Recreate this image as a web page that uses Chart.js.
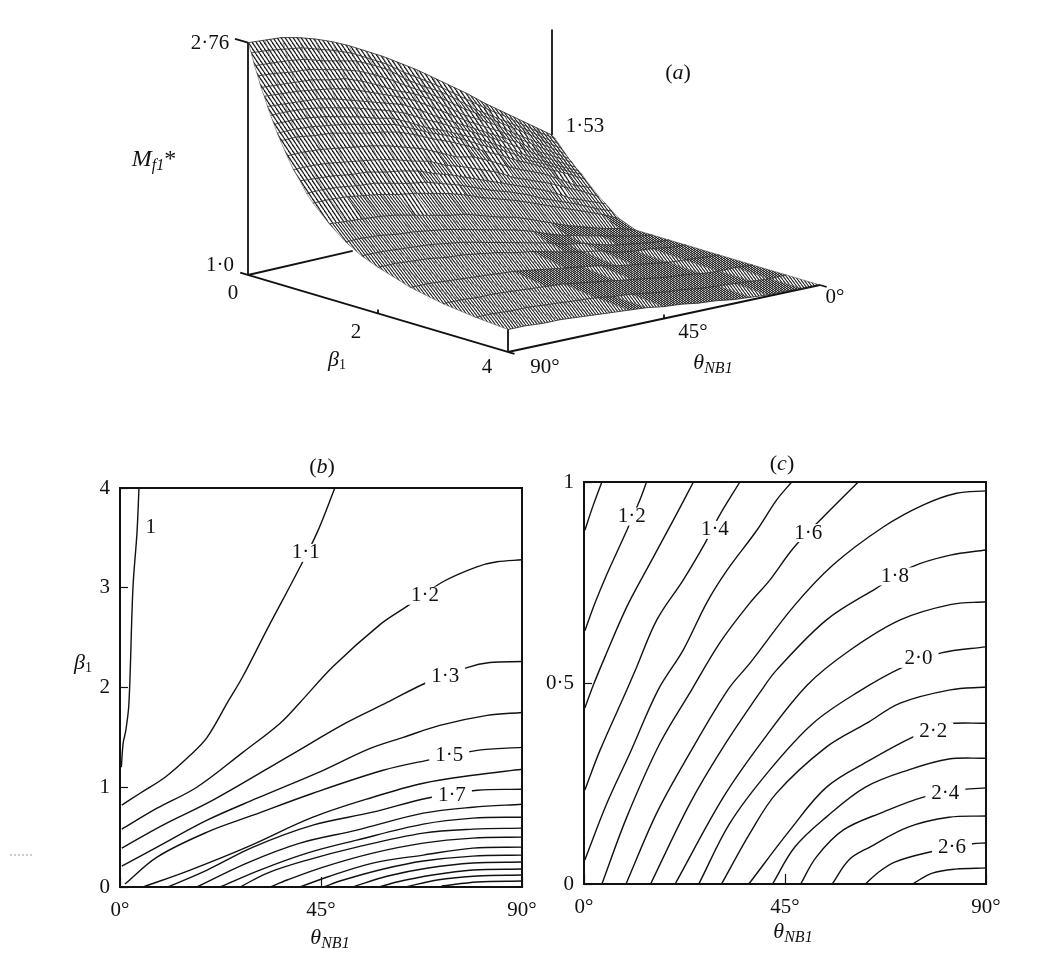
<!DOCTYPE html>
<html>
<head>
<meta charset="utf-8">
<script src="https://cdn.jsdelivr.net/npm/chart.js@4"></script>
<style>
    body { margin: 0; background: #fff; }
    #page { position: relative; width: 1044px; height: 959px; overflow: hidden; }
    canvas { position: absolute; filter: blur(0.4px); }
</style>
</head>
<body>
<div id="page">
    <canvas id="surfaceChart" width="1044" height="430" style="left:0px;top:0px"></canvas>
    <canvas id="chartB" width="560" height="519" style="left:0px;top:440px"></canvas>
    <canvas id="chartC" width="514" height="519" style="left:530px;top:440px"></canvas>
</div>
<script>
// surface (a): M, one row per beta, columns per theta
const surfaceTheta = [0, 5, 10, 15, 20, 25, 30, 35, 40, 45, 50, 55, 60, 65, 70, 75, 80, 85, 90];
const surfaceBeta = [0, .05, .1, .15, .2, .25, .3, .35, .4, .45, .5, .6, .7, .8, .9, 1, 1.25, 1.5, 1.75, 2, 2.5, 3, 3.5, 4];
const surfaceM = [
    [1.53, 1.62, 1.71, 1.80, 1.89, 1.99, 2.08, 2.17, 2.26, 2.34, 2.42, 2.49, 2.56, 2.62, 2.67, 2.71, 2.74, 2.75, 2.76],
    [1.51, 1.59, 1.68, 1.77, 1.85, 1.94, 2.03, 2.12, 2.20, 2.28, 2.37, 2.44, 2.51, 2.56, 2.60, 2.64, 2.66, 2.68, 2.69],
    [1.48, 1.56, 1.65, 1.73, 1.81, 1.89, 1.99, 2.08, 2.15, 2.23, 2.33, 2.40, 2.46, 2.49, 2.52, 2.56, 2.58, 2.59, 2.60],
    [1.45, 1.53, 1.62, 1.70, 1.78, 1.86, 1.94, 2.03, 2.11, 2.18, 2.26, 2.33, 2.39, 2.43, 2.46, 2.49, 2.50, 2.52, 2.53],
    [1.42, 1.50, 1.58, 1.66, 1.75, 1.82, 1.89, 1.98, 2.07, 2.14, 2.19, 2.26, 2.32, 2.37, 2.39, 2.42, 2.43, 2.44, 2.45],
    [1.39, 1.47, 1.55, 1.63, 1.71, 1.78, 1.85, 1.93, 2.01, 2.09, 2.15, 2.20, 2.25, 2.30, 2.33, 2.35, 2.37, 2.38, 2.39],
    [1.37, 1.44, 1.51, 1.60, 1.67, 1.74, 1.81, 1.88, 1.95, 2.03, 2.10, 2.14, 2.18, 2.22, 2.26, 2.29, 2.30, 2.31, 2.32],
    [1.34, 1.41, 1.48, 1.56, 1.64, 1.71, 1.78, 1.84, 1.91, 1.97, 2.04, 2.09, 2.13, 2.17, 2.20, 2.23, 2.25, 2.26, 2.26],
    [1.32, 1.38, 1.45, 1.52, 1.60, 1.67, 1.74, 1.80, 1.86, 1.91, 1.98, 2.04, 2.07, 2.11, 2.14, 2.17, 2.19, 2.20, 2.20],
    [1.30, 1.36, 1.43, 1.49, 1.57, 1.64, 1.70, 1.77, 1.83, 1.88, 1.94, 2.00, 2.03, 2.06, 2.09, 2.11, 2.13, 2.14, 2.14],
    [1.27, 1.34, 1.40, 1.47, 1.53, 1.60, 1.66, 1.73, 1.79, 1.84, 1.90, 1.95, 1.98, 2.00, 2.03, 2.06, 2.07, 2.09, 2.09],
    [1.22, 1.27, 1.35, 1.42, 1.47, 1.53, 1.60, 1.66, 1.69, 1.75, 1.81, 1.85, 1.89, 1.92, 1.94, 1.96, 1.98, 1.99, 1.99],
    [1.17, 1.24, 1.30, 1.36, 1.41, 1.46, 1.53, 1.58, 1.63, 1.67, 1.73, 1.76, 1.80, 1.83, 1.85, 1.87, 1.89, 1.90, 1.90],
    [1.13, 1.18, 1.23, 1.30, 1.36, 1.41, 1.46, 1.51, 1.56, 1.61, 1.65, 1.70, 1.73, 1.75, 1.78, 1.79, 1.81, 1.82, 1.83],
    [1.09, 1.14, 1.20, 1.25, 1.30, 1.36, 1.41, 1.45, 1.50, 1.55, 1.59, 1.63, 1.65, 1.68, 1.71, 1.72, 1.74, 1.75, 1.75],
    [1.05, 1.11, 1.16, 1.21, 1.26, 1.31, 1.36, 1.40, 1.44, 1.49, 1.53, 1.56, 1.59, 1.61, 1.64, 1.66, 1.68, 1.69, 1.69],
    [1.00, 1.04, 1.07, 1.11, 1.15, 1.20, 1.25, 1.30, 1.33, 1.37, 1.41, 1.43, 1.46, 1.49, 1.52, 1.54, 1.55, 1.56, 1.57],
    [1.00, 1.02, 1.05, 1.08, 1.11, 1.14, 1.18, 1.23, 1.27, 1.30, 1.33, 1.36, 1.39, 1.41, 1.43, 1.44, 1.46, 1.47, 1.47],
    [1.00, 1.01, 1.03, 1.05, 1.08, 1.12, 1.14, 1.18, 1.21, 1.24, 1.27, 1.30, 1.33, 1.35, 1.37, 1.38, 1.39, 1.40, 1.40],
    [1.00, 1.01, 1.03, 1.04, 1.06, 1.10, 1.12, 1.15, 1.18, 1.21, 1.23, 1.26, 1.28, 1.30, 1.31, 1.33, 1.34, 1.35, 1.35],
    [1.00, 1.01, 1.02, 1.03, 1.05, 1.07, 1.09, 1.12, 1.14, 1.16, 1.18, 1.20, 1.22, 1.23, 1.24, 1.25, 1.26, 1.27, 1.27],
    [1.00, 1.01, 1.01, 1.02, 1.04, 1.05, 1.07, 1.09, 1.11, 1.13, 1.15, 1.17, 1.18, 1.19, 1.20, 1.21, 1.21, 1.22, 1.22],
    [1.00, 1.00, 1.01, 1.02, 1.03, 1.04, 1.06, 1.07, 1.09, 1.11, 1.12, 1.14, 1.15, 1.16, 1.17, 1.18, 1.18, 1.19, 1.19],
    [1.00, 1.00, 1.01, 1.01, 1.02, 1.03, 1.05, 1.06, 1.08, 1.09, 1.11, 1.12, 1.13, 1.14, 1.15, 1.16, 1.16, 1.17, 1.17]
];

// contours of (b), [theta, beta] per level
const bLevels = [1, 1.1, 1.2, 1.3, 1.4, 1.5, 1.6, 1.7, 1.8, 1.9, 2, 2.1, 2.2, 2.3, 2.4, 2.5, 2.6, 2.7];
const bContours = [
    [[4.25, 4], [3.8, 3.55], [2.9, 3], [2, 1.84], [1.3, 1.57], [.7, 1.44], [.3, 1.2]],
    [[48.1, 4], [44.1, 3.55], [39.4, 3.13], [32.9, 2.58], [27.5, 2.11], [24.2, 1.86], [19.5, 1.5], [15.7, 1.32], [10.1, 1.1], [4.5, .94], [.4, .82]],
    [[90, 3.28], [84.4, 3.26], [79.9, 3.21], [72.3, 3.06], [63.8, 2.8], [58.2, 2.63], [47.7, 2.21], [40.3, 1.85], [35.8, 1.64], [27.5, 1.35], [17.2, 1], [8.3, .79], [.4, .58]],
    [[90, 2.26], [82.8, 2.25], [77.7, 2.2], [68.7, 2.05], [59.8, 1.85], [50.8, 1.65], [38.1, 1.32], [20.8, .87], [9.6, .62], [.4, .39]],
    [[90, 1.75], [82.2, 1.72], [71.6, 1.62], [63.4, 1.5], [55.5, 1.38], [45.5, 1.17], [30.7, .89], [19.5, .67], [8.3, .4], [.4, .21]],
    [[90, 1.4], [80, 1.37], [68.7, 1.27], [58.9, 1.17], [43.2, .94], [29.8, .72], [19.5, .55], [8.3, .3], [1.1, .03]],
    [[90, 1.18], [79, 1.12], [67.9, 1.04], [56.6, .9], [43.2, .7], [28.4, .4], [15.7, .17], [5.2, 0]],
    [[90, .98], [80, .97], [68.7, .89], [56.6, .75], [43.2, .62], [29.8, .4], [19.5, .17], [10.7, 0]],
    [[90, .83], [79, .8], [67.9, .74], [53, .57], [40.3, .44], [28.4, .24], [17.2, 0]],
    [[90, .7], [79, .69], [67.9, .63], [53, .47], [41.9, .34], [31.3, .17], [22.4, 0]],
    [[90, .59], [79, .58], [67.9, .54], [53, .4], [41.9, .27], [33, .14], [26.9, 0]],
    [[90, .5], [79, .49], [67.9, .44], [56.6, .34], [45.5, .2], [37.4, .07], [33.6, 0]],
    [[90, .4], [79, .39], [67.9, .32], [56.6, .24], [46.4, .1], [40.3, 0]],
    [[90, .32], [79, .31], [67.9, .26], [59, .18], [50, .07], [45.5, 0]],
    [[90, .25], [79, .24], [69, .19], [60, .11], [52, 0]],
    [[90, .18], [79, .17], [70, .12], [62, .05], [58, 0]],
    [[90, .12], [80, .11], [71, .07], [64, 0]],
    [[90, .06], [80, .05], [72, .01]]
];

// contours of (c)
const cLevels = [1.1, 1.2, 1.3, 1.4, 1.5, 1.6, 1.7, 1.8, 1.9, 2, 2.1, 2.2, 2.3, 2.4, 2.5, 2.6, 2.7];
const cContours = [
    [[4, 1], [2, .94], [.2, .88]],
    [[14, 1], [12.5, .955], [9.6, .88], [5.1, .77], [2.5, .7], [.2, .63]],
    [[24.5, 1], [20, .905], [14.8, .798], [9.6, .69], [4.7, .565], [2.1, .495], [.2, .438]],
    [[34.9, 1], [30.4, .918], [27.1, .848], [22.2, .756], [16.3, .657], [11.8, .54], [9.6, .483], [3.6, .333], [.2, .234]],
    [[46.5, 1], [43.1, .955], [38.7, .88], [32, .78], [27.5, .7], [22.2, .582], [16.6, .483], [10.3, .326], [5.1, .2], [.2, .06]],
    [[61.4, 1], [54, .918], [46.9, .836], [41.6, .756], [37.2, .7], [30.4, .6], [24.1, .483], [17, .35], [9.6, .167], [4, 0]],
    [[90, .978], [83.4, .972], [76, .943], [67, .888], [55.8, .794], [46.9, .69], [37.2, .55], [32.2, .483], [23.7, .326], [16.3, .177], [9.4, 0]],
    [[90, .831], [82, .818], [73.4, .789], [65.5, .736], [54.3, .657], [43.1, .532], [39.8, .483], [31.2, .341], [23.7, .2], [14.9, 0]],
    [[90, .702], [82, .695], [70.8, .657], [59.6, .582], [50, .495], [40.1, .358], [31.2, .216], [20.4, 0]],
    [[90, .59], [80, .575], [71.5, .54], [61.4, .478], [51.3, .4], [41.6, .284], [32.7, .152], [25.7, 0]],
    [[90, .49], [82, .483], [70.8, .45], [63.3, .4], [54.3, .341], [43.1, .226], [37.2, .127], [30.8, 0]],
    [[90, .4], [81, .397], [73.7, .366], [64, .308], [54.3, .241], [46.1, .134], [36.9, 0]],
    [[90, .313], [81.7, .311], [72.7, .284], [63, .241], [54.3, .167], [47.2, .092], [42.2, 0]],
    [[90, .239], [85, .235], [76, .216], [67, .179], [58, .134], [52, .067], [48.5, 0]],
    [[90, .169], [81.7, .166], [72.7, .142], [64, .092], [59.3, .06], [55.6, 0]],
    [[90, .102], [87, .1], [76.5, .077], [69.7, .055], [66, .03], [63, 0]],
    [[90, .04], [83.2, .037], [78, .027], [73.5, 0]]
];

// contour labels sit on the map at these values
const bLabelText = ['1', '1·1', '1·2', '1·3', '1·5', '1·7'];
const bLabelTheta = [6.9, 41.6, 68.3, 72.8, 73.7, 74.3];
const bLabelBeta = [3.6, 3.35, 2.92, 2.11, 1.32, .92];
const cLabelText = ['1·2', '1·4', '1·6', '1·8', '2·0', '2·2', '2·4', '2·6'];
const cLabelTheta = [10.7, 29.3, 50.2, 69.6, 74.9, 78.2, 80.9, 82.4];
const cLabelBeta = [.914, .881, .873, .765, .56, .379, .226, .09];

// tick labels
const thetaTickLabels = ['0°', '45°', '90°'];
const bTickLabels = ['0', '1', '2', '3', '4'];
const cTickLabels = ['0', '0·5', '1'];

const INK = '#111';
const SERIF = '"Liberation Serif", serif';

// base corners of the oblique view and height of one unit of M
const view = {
    origin: [248, 275], front: [508, 352], right: [820, 285], back: [552, 205],
    unit: 132
};

// beta, theta, M -> position on the (a) canvas
const project = (beta, theta, m) => {
    const u = beta / 4, t = theta / 90;
    const mix = (i) =>
        view.origin[i] * (1 - u) * t + view.front[i] * u * t +
        view.right[i] * u * (1 - t) + view.back[i] * (1 - u) * (1 - t);
    return { x: mix(0), y: mix(1) - view.unit * (m - 1) };
};

// draws text runs, each run [text, font, drop]
const drawRuns = (ctx, x, y, runs) => {
    ctx.textAlign = 'left';
    ctx.textBaseline = 'middle';
    ctx.fillStyle = INK;
    let total = 0;
    runs.forEach(r => { ctx.font = r[1]; total += ctx.measureText(r[0]).width; });
    let cx = x - total / 2;
    runs.forEach(r => {
        ctx.font = r[1];
        ctx.fillText(r[0], cx, y + (r[2] || 0));
        cx += ctx.measureText(r[0]).width;
    });
};

const roman = `21px ${SERIF}`;
const italic = `italic 22px ${SERIF}`;
const smallItalic = `italic 16px ${SERIF}`;
const thetaRuns = [['θ', italic], ['NB1', smallItalic, 6]];
const betaRuns = [['β', italic], ['1', `14px ${SERIF}`, 5]];
const panelRuns = (letter) => [['(', `22px ${SERIF}`], [letter, `italic 22px ${SERIF}`], [')', `22px ${SERIF}`]];

const makeHatch = (w, h, width, color) => {
    const tile = document.createElement('canvas');
    tile.width = w;
    tile.height = h;
    const c = tile.getContext('2d');
    c.fillStyle = '#fff';
    c.fillRect(0, 0, w, h);
    c.strokeStyle = color;
    c.lineWidth = width;
    [-w, 0, w].forEach(dx => {
        c.beginPath();
        c.moveTo(dx, 0);
        c.lineTo(dx + w, h);
        c.stroke();
    });
    return c.createPattern(tile, 'repeat');
};

// (a)
const lineSet = (points, width, color) => ({
    data: points, showLine: true, borderColor: color || INK, borderWidth: width,
    pointRadius: 0, tension: 0
});
const frameLines = [
    [[0, 90, 1], [0, 90, 2.76]],
    [[-.2, 90, 2.76], [0, 90, 2.76]],
    [[0, 0, 1.53], [0, 0, 2.33]],
    [[0, 90, 1], [0, 59, 1]],
    [[-.12, 90, 1], [4.1, 90, 1]],
    [[4, 90, 1], [4, 0, 1]],
    [[4, 0, 1], [4.1, 0, 1]],
    [[4, 90, 1], [4, 90, 1.17]],
    [[2, 90, 1], [2, 90, 1.03]],
    [[4, 45, 1], [4, 45, 1.03]]
];
const rowSets = surfaceM.map((row, j) =>
    lineSet(row.map((m, i) => project(surfaceBeta[j], surfaceTheta[i], m)), .8, '#222'));
const columnSets = surfaceTheta.map((theta, i) =>
    lineSet(surfaceBeta.map((beta, j) => project(beta, theta, surfaceM[j][i])), .5, '#444'));

// hatch each mesh cell, darker where the view squeezes the mesh together
const surfaceShade = {
    id: 'surfaceShade',
    beforeDatasetsDraw(chart) {
        const ctx = chart.ctx;
        const light = makeHatch(4, 6, 1.3, '#222');
        const mid = makeHatch(3, 4, 1.1, '#222');
        const dark = makeHatch(3, 2, 1.3, '#1a1a1a');
        ctx.save();
        for (let j = 0; j < rowSets.length - 1; j++) {
            const a = chart.getDatasetMeta(j).data;
            const b = chart.getDatasetMeta(j + 1).data;
            const span = surfaceBeta[j + 1] - surfaceBeta[j];
            for (let i = 0; i < a.length - 1; i++) {
                const ux = a[i + 1].x - a[i].x, uy = a[i + 1].y - a[i].y;
                const vx = b[i].x - a[i].x, vy = b[i].y - a[i].y;
                const stretch = Math.abs(ux * vy - uy * vx) / (span * 5);
                ctx.beginPath();
                ctx.moveTo(a[i].x, a[i].y);
                ctx.lineTo(a[i + 1].x, a[i + 1].y);
                ctx.lineTo(b[i + 1].x, b[i + 1].y);
                ctx.lineTo(b[i].x, b[i].y);
                ctx.closePath();
                ctx.fillStyle = stretch > 300 ? light : stretch > 110 ? mid : dark;
                ctx.fill();
            }
        }
        ctx.restore();
    }
};
const surfaceText = {
    id: 'surfaceText',
    afterDatasetsDraw(chart) {
        const ctx = chart.ctx;
        ctx.save();
        drawRuns(ctx, 210, 43, [['2·76', roman]]);
        drawRuns(ctx, 220, 265, [['1·0', roman]]);
        drawRuns(ctx, 233, 293, [['0', roman]]);
        drawRuns(ctx, 356, 332, [['2', roman]]);
        drawRuns(ctx, 487, 367, [['4', roman]]);
        drawRuns(ctx, 585, 126, [['1·53', roman]]);
        drawRuns(ctx, 545, 367, [['90°', roman]]);
        drawRuns(ctx, 693, 332, [['45°', roman]]);
        drawRuns(ctx, 835, 297, [['0°', roman]]);
        drawRuns(ctx, 337, 360, betaRuns);
        drawRuns(ctx, 713, 363, thetaRuns);
        drawRuns(ctx, 678, 73, panelRuns('a'));
        drawRuns(ctx, 154, 160, [['M', `italic 24px ${SERIF}`], ['f1', `italic 16px ${SERIF}`, 6], ['*', `24px ${SERIF}`]]);
        ctx.restore();
    }
};
new Chart(document.getElementById('surfaceChart'), {
    type: 'scatter',
    data: {
        datasets: [
            ...rowSets,
            ...columnSets,
            ...frameLines.map(l => lineSet(l.map(p => project(p[0], p[1], p[2])), 1.8))
        ]
    },
    options: {
        responsive: false,
        animation: false,
        layout: { padding: 0 },
        plugins: { legend: { display: false }, tooltip: { enabled: false } },
        scales: {
            x: { type: 'linear', display: false, min: 0, max: 1044 },
            y: { type: 'linear', display: false, min: 0, max: 430, reverse: true }
        }
    },
    plugins: [surfaceShade, surfaceText]
});

// (b) and (c)
const contourPanel = (id, cfg) => {
    const labelsPlugin = {
        id: 'panelDecor',
        afterDatasetsDraw(chart) {
            const ctx = chart.ctx, area = chart.chartArea;
            const xs = chart.scales.x, ys = chart.scales.y;
            ctx.save();
            cfg.labelText.forEach((text, i) => {
                const x = xs.getPixelForValue(cfg.labelTheta[i]);
                const y = ys.getPixelForValue(cfg.labelBeta[i]);
                ctx.font = roman;
                const w = ctx.measureText(text).width + 12;
                if (text.length > 1) {
                    ctx.fillStyle = '#fff';
                    ctx.fillRect(x - w / 2, y - 9, w, 18);
                }
                drawRuns(ctx, x, y, [[text, roman]]);
            });
            ctx.strokeStyle = INK;
            ctx.lineWidth = 2;
            ctx.strokeRect(area.left, area.top, area.right - area.left, area.bottom - area.top);
            drawRuns(ctx, cfg.title[0], cfg.title[1], panelRuns(cfg.letter));
            drawRuns(ctx, cfg.xTitle[0], cfg.xTitle[1], thetaRuns);
            if (cfg.yTitle) drawRuns(ctx, cfg.yTitle[0], cfg.yTitle[1], betaRuns);
            if (cfg.speck) {
                // faint scanner mark left of the panel
                ctx.strokeStyle = '#999';
                ctx.lineWidth = 1;
                ctx.setLineDash([2, 2]);
                ctx.beginPath();
                ctx.moveTo(cfg.speck[0], cfg.speck[1]);
                ctx.lineTo(cfg.speck[2], cfg.speck[1]);
                ctx.stroke();
            }
            ctx.restore();
        }
    };
    const noPadding = (scale) => {
        scale.paddingLeft = scale.paddingRight = scale.paddingTop = scale.paddingBottom = 0;
    };
    new Chart(document.getElementById(id), {
        type: 'scatter',
        data: {
            datasets: cfg.contours.map((points) => ({
                data: points.map(p => ({ x: p[0], y: p[1] })),
                showLine: true,
                borderColor: INK,
                borderWidth: 1.4,
                pointRadius: 0,
                tension: .35
            }))
        },
        options: {
            responsive: false,
            animation: false,
            layout: { padding: cfg.padding },
            plugins: { legend: { display: false }, tooltip: { enabled: false } },
            scales: {
                x: {
                    type: 'linear', min: 0, max: 90,
                    border: { color: INK, width: 1 },
                    grid: { drawOnChartArea: false, tickLength: -10, tickColor: INK, tickWidth: 1.2 },
                    ticks: {
                        stepSize: 45, padding: 21, maxRotation: 0, color: INK,
                        font: { family: 'Liberation Serif', size: 21 },
                        callback: (v, i) => thetaTickLabels[i]
                    },
                    afterFit: (s) => { s.height = cfg.xHeight; noPadding(s); }
                },
                y: {
                    type: 'linear', min: 0, max: cfg.yMax,
                    border: { color: INK, width: 1 },
                    grid: { drawOnChartArea: false, tickLength: -8, tickColor: INK, tickWidth: 1.2 },
                    ticks: {
                        stepSize: cfg.yStep, padding: 18, color: INK,
                        font: { family: 'Liberation Serif', size: 21 },
                        callback: (v, i) => cfg.yLabels[i]
                    },
                    afterFit: (s) => { s.width = cfg.yWidth; noPadding(s); }
                }
            }
        },
        plugins: [labelsPlugin]
    });
};

contourPanel('chartB', {
    contours: bContours, labelText: bLabelText, labelTheta: bLabelTheta, labelBeta: bLabelBeta,
    yMax: 4, yStep: 1, yLabels: bTickLabels,
    padding: { left: 0, top: 48, right: 38, bottom: 0 }, yWidth: 120, xHeight: 72,
    letter: 'b', title: [322, 27], xTitle: [330, 498], yTitle: [83, 223], speck: [10, 415, 32]
});
contourPanel('chartC', {
    contours: cContours, labelText: cLabelText, labelTheta: cLabelTheta, labelBeta: cLabelBeta,
    yMax: 1, yStep: .5, yLabels: cTickLabels,
    padding: { left: 0, top: 42, right: 58, bottom: 0 }, yWidth: 54, xHeight: 75,
    letter: 'c', title: [252, 24], xTitle: [263, 492]
});
</script>
</body>
</html>
